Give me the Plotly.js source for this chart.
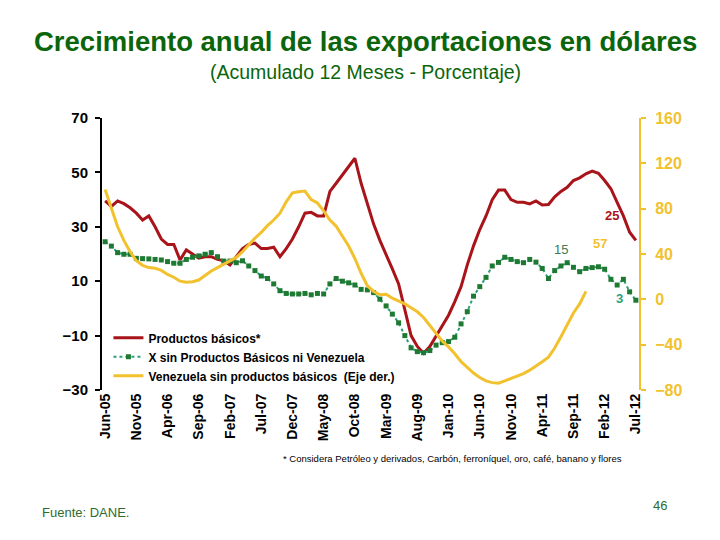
<!DOCTYPE html>
<html>
<head>
<meta charset="utf-8">
<script src="https://cdn.plot.ly/plotly-3.0.1.min.js"></script>
<style>html,body{margin:0;padding:0;background:#fff;}#chart{width:720px;height:540px;}</style>
</head>
<body>
<div id="chart"></div>
<script>
// Categories: monthly, Jun-05 .. Jul-12
const months = [
 "Jun-05","Jul-05","Aug-05","Sep-05","Oct-05","Nov-05","Dec-05",
 "Jan-06","Feb-06","Mar-06","Apr-06","May-06","Jun-06","Jul-06","Aug-06","Sep-06","Oct-06","Nov-06","Dec-06",
 "Jan-07","Feb-07","Mar-07","Apr-07","May-07","Jun-07","Jul-07","Aug-07","Sep-07","Oct-07","Nov-07","Dec-07",
 "Jan-08","Feb-08","Mar-08","Apr-08","May-08","Jun-08","Jul-08","Aug-08","Sep-08","Oct-08","Nov-08","Dec-08",
 "Jan-09","Feb-09","Mar-09","Apr-09","May-09","Jun-09","Jul-09","Aug-09","Sep-09","Oct-09","Nov-09","Dec-09",
 "Jan-10","Feb-10","Mar-10","Apr-10","May-10","Jun-10","Jul-10","Aug-10","Sep-10","Oct-10","Nov-10","Dec-10",
 "Jan-11","Feb-11","Mar-11","Apr-11","May-11","Jun-11","Jul-11","Aug-11","Sep-11","Oct-11","Nov-11","Dec-11",
 "Jan-12","Feb-12","Mar-12","Apr-12","May-12","Jun-12","Jul-12"
];

// Productos básicos* (left axis, %)
const productosBasicos = [
 39.5, 37.5, 39.5, 38.5, 37, 35, 32.5, 34, 30, 25.5,
 23.5, 23.5, 17.8, 21.5, 20, 18.5, 19, 19, 18, 17.5,
 16, 19, 22, 23.5, 24, 22, 22, 22.5, 19, 22,
 25.5, 30, 35, 35.3, 34, 34, 43, 46, 49, 52,
 55.2, 46, 38, 31, 25, 20, 14.5, 9, 0, -10,
 -14, -16.5, -14, -10, -6.5, -2.5, 2.5, 8, 16, 23,
 29, 34, 40, 43.5, 43.5, 40, 39, 39, 38.4, 39.5,
 38, 38.2, 41, 43, 44.5, 47, 48, 49.5, 50.5, 49.7,
 47, 44, 39, 34, 28, 25
];

// X sin Productos Básicos ni Venezuela (left axis, %)
const sinBasicosNiVenezuela = [
 24.5, 22.9, 20.5, 19.9, 19.9, 18.4, 18.3, 18.2, 18, 17.8,
 17.2, 16.6, 16.6, 18, 18.8, 19.3, 19.9, 20.5, 19, 17.4,
 17.4, 16.8, 17.5, 15.6, 13.9, 11.9, 11, 9, 6.5, 5.5,
 5.3, 5.3, 5.5, 5, 5.5, 5.3, 9, 11, 10, 9.4,
 8.6, 7, 6.8, 5.8, 3.4, 0.9, -2.1, -5.3, -10, -14.5,
 -15.9, -16.3, -15.5, -13.5, -12.6, -12.2, -10.6, -5.7, -1.2, 4.5,
 8, 11.4, 15.6, 16.9, 18.8, 18, 17.2, 16.8, 18, 17,
 14.7, 11, 13.9, 15.6, 16.8, 15.1, 13.5, 14.7, 15, 15.3,
 14.4, 10.7, 8.6, 10.7, 6.1, 3
];

// Venezuela sin productos básicos (right axis, %), Jun-05 .. Nov-11
const venezuelaSinBasicos = [
 97, 80, 64, 52, 42, 34, 30, 28, 27.5, 25.5,
 22, 19.5, 16, 15, 15.5, 17, 21, 25, 28, 31,
 34, 37, 42, 48, 54, 59, 65, 70, 76, 86,
 94, 95, 95.5, 88, 85, 78, 70, 64.5, 56, 47,
 36, 23, 12, 7, 4, 4.5, 1, -1.5, -4, -7.5,
 -11, -16, -23, -30, -37, -42, -48, -55, -60, -65,
 -69, -72, -73.5, -74, -72, -70, -67.5, -65.5, -62.5, -59,
 -55, -51, -43, -33, -22, -12, -4, 7
];

const leftTicks = [-30, -10, 10, 30, 50, 70];
const rightTicks = [-80, -40, 0, 40, 80, 120, 160];
const labelStep = 5;

const tickLabels = months.filter((m, i) => i % labelStep === 0);
const boundaryTicks = [];
for (let i = 0; i < months.length; i += labelStep) boundaryTicks.push(i - 0.5);

const FONT = "Liberation Sans, Arial, sans-serif";
const RED = "#A8141A", GREEN_LINE = "#2BA07A", GREEN_MK = "#1E7A32", GOLD = "#F2C12E";

const traces = [
 {x: months, y: productosBasicos, name: "Productos básicos*", type: "scatter", mode: "lines",
  line: {color: RED, width: 3}, yaxis: "y"},
 {x: months, y: sinBasicosNiVenezuela, name: "X sin Productos Básicos ni Venezuela", type: "scatter", mode: "lines+markers",
  line: {color: GREEN_LINE, width: 2, dash: "dot"}, marker: {symbol: "square", size: 5, color: GREEN_MK}, yaxis: "y"},
 {x: months.slice(0, venezuelaSinBasicos.length), y: venezuelaSinBasicos, name: "Venezuela sin productos básicos  (Eje der.)",
  type: "scatter", mode: "lines", line: {color: GOLD, width: 3}, yaxis: "y2"}
];

const layout = {
 width: 720, height: 540,
 margin: {l: 102, r: 81, t: 118, b: 150},
 paper_bgcolor: "#fff", plot_bgcolor: "#fff",
 font: {family: FONT, color: "#000"},
 showlegend: true,
 legend: {x: 0.012, y: 0.245, xanchor: "left", yanchor: "top", bgcolor: "rgba(0,0,0,0)",
  font: {family: FONT, size: 12, weight: 700, color: "#000"}, itemwidth: 30, tracegroupgap: 0},
 xaxis: {type: "category", range: [-0.5, months.length - 0.5], tickvals: tickLabels, ticktext: tickLabels,
  tickangle: -90, ticks: "", showline: false, showgrid: false, zeroline: false,
  tickfont: {family: FONT, size: 14, weight: 700, color: "#000"}},
 xaxis2: {overlaying: "x", anchor: "free", position: 0.3, side: "bottom", range: [-0.5, months.length - 0.5],
  tickvals: boundaryTicks, showticklabels: false, ticks: "outside", ticklen: 5, tickwidth: 2, tickcolor: "#000",
  showline: true, linecolor: "#000", linewidth: 2, showgrid: false, zeroline: false},
 yaxis: {range: [-30, 70], tickvals: leftTicks, ticks: "outside", ticklen: 5, tickwidth: 2, tickcolor: "#000",
  showline: true, linecolor: "#000", linewidth: 2, showgrid: false, zeroline: false, ticklabelstandoff: 4,
  tickfont: {family: FONT, size: 15, weight: 700, color: "#000"}},
 yaxis2: {overlaying: "y", side: "right", anchor: "x", range: [-80, 160], tickvals: rightTicks,
  ticks: "outside", ticklen: 5, tickwidth: 2, tickcolor: GOLD, showline: true, linecolor: GOLD, linewidth: 2,
  showgrid: false, zeroline: false, ticklabelstandoff: 6,
  tickfont: {family: FONT, size: 16, weight: 700, color: GOLD}},
 annotations: [
  {xref: "paper", yref: "paper", x: 0.4916, y: 1.0, yanchor: "bottom", showarrow: false,
   text: "<b>Crecimiento anual de las exportaciones en dólares</b>", font: {family: FONT, size: 27.5, color: "#0B650B"},
   yshift: 59},
  {xref: "paper", yref: "paper", x: 0.4916, y: 1.0, yanchor: "bottom", showarrow: false,
   text: "(Acumulado 12 Meses - Porcentaje)", font: {family: FONT, size: 19.5, color: "#0B650B"}, yshift: 33},
  {xref: "x", yref: "y", x: 81.2, y: 34.3, showarrow: false, text: "<b>25</b>", font: {family: FONT, size: 13, color: RED}},
  {xref: "x", yref: "y", x: 79.2, y: 23.7, showarrow: false, text: "<b>57</b>", font: {family: FONT, size: 13, color: GOLD}},
  {xref: "x", yref: "y", x: 73.0, y: 21.8, showarrow: false, text: "15", font: {family: FONT, size: 13, color: "#3D7A55"}},
  {xref: "x", yref: "y", x: 82.3, y: 3.8, showarrow: false, text: "<b>3</b>", font: {family: FONT, size: 13, color: GREEN_LINE}},
  {xref: "paper", yref: "paper", x: 0.652, y: -0.28, showarrow: false,
   text: "* Considera Petróleo y derivados, Carbón, ferroníquel, oro, café, banano y flores",
   font: {family: FONT, size: 9.5, color: "#000"}},
  {xref: "paper", yref: "paper", x: -0.115, y: -0.485, xanchor: "left", showarrow: false,
   text: "Fuente: DANE.", font: {family: FONT, size: 13, color: "#2E6B2E"}},
  {xref: "paper", yref: "paper", x: 1.055, y: -0.46, showarrow: false,
   text: "46", font: {family: FONT, size: 13, color: "#2E6B2E"}}
 ]
};

Plotly.newPlot("chart", traces, layout, {displayModeBar: false, staticPlot: true});
</script>
</body>
</html>
